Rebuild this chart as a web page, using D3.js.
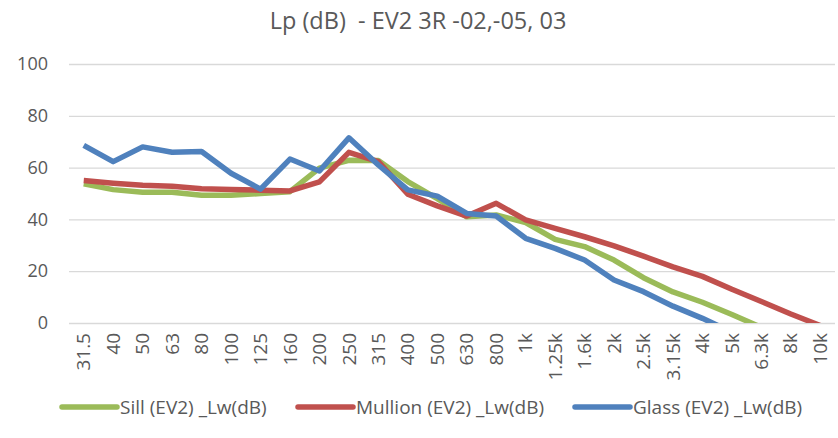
<!DOCTYPE html>
<html>
<head>
<meta charset="utf-8">
<script src="https://cdn.jsdelivr.net/npm/d3@7/dist/d3.min.js"></script>
<style>
  html, body { margin: 0; padding: 0; background: #fff; }
  #chart { width: 838px; height: 438px; }
</style>
</head>
<body>
<div id="chart"></div>
<script>
const freqs = ['31.5', '40', '50', '63', '80', '100', '125', '160', '200', '250', '315', '400', '500',
  '630', '800', '1k', '1.25k', '1.6k', '2k', '2.5k', '3.15k', '4k', '5k', '6.3k', '8k', '10k'];

const sill = [53.7, 51.5, 50.5, 50.5, 49.3, 49.3, 50, 50.7, 59.8, 62.8, 62.7, 54.6, 48,
  41, 41.7, 38.8, 32.3, 29.5, 24.3, 17.5, 12, 8, 3.3, -1.7, null, null];
const mullion = [55, 54, 53.2, 52.8, 51.8, 51.5, 51.3, 51, 54.5, 65.9, 62.3, 49.7, 45.2,
  41.3, 46.2, 39.8, 36.5, 33.3, 29.8, 25.8, 21.7, 18, 13, 8.3, 3.5, -1];
const glass = [68.6, 62.3, 68, 65.9, 66.2, 57.8, 51.7, 63.3, 58.7, 71.5, 61, 51.4, 49,
  42.3, 41.3, 32.7, 28.8, 24.3, 16.6, 12.1, 6.5, 1.8, -3.5, null, null, null];

const yTicks = [0, 20, 40, 60, 80, 100];
const seriesNames = ['Sill (EV2) _Lw(dB)', 'Mullion (EV2) _Lw(dB)', 'Glass (EV2) _Lw(dB)'];
const seriesColors = ['#9BBB59', '#C0504D', '#4F81BD'];
const seriesValues = [sill, mullion, glass];

const font = "'Open Sans', 'DejaVu Sans', sans-serif";
const textColor = '#595959';

const totalW = 838, totalH = 438;
const margin = { top: 64, right: 3, bottom: 115, left: 69 };
const w = totalW - margin.left - margin.right;
const h = totalH - margin.top - margin.bottom;

const svg = d3.select('#chart').append('svg')
  .attr('width', totalW).attr('height', totalH);

svg.append('text')
  .attr('x', 418).attr('y', 29)
  .attr('text-anchor', 'middle')
  .attr('font-family', font).attr('font-size', '23.5px')
  .attr('fill', textColor)
  .style('white-space', 'pre')
  .text('Lp (dB)  - EV2 3R -02,-05, 03');

const g = svg.append('g').attr('transform', `translate(${margin.left},${margin.top})`);

const x = d3.scaleBand().domain(freqs).range([0, w]).padding(0);
const y = d3.scaleLinear().domain([0, 100]).range([h, 0]);

// Grid
g.append('g').selectAll('line')
  .data(yTicks).enter().append('line')
  .attr('x1', 0).attr('x2', w)
  .attr('y1', d => y(d) + 0.5).attr('y2', d => y(d) + 0.5)
  .attr('stroke', '#D9D9D9').attr('stroke-width', 1.3);

// Y axis labels
const yAxis = g.append('g').call(d3.axisLeft(y).tickValues(yTicks).tickSize(0).tickPadding(21));
yAxis.select('.domain').remove();
yAxis.selectAll('text')
  .attr('fill', textColor).attr('font-family', font).attr('font-size', '18px');

// X axis labels
const xAxis = g.append('g').attr('transform', `translate(0,${h})`)
  .call(d3.axisBottom(x).tickSize(0));
xAxis.select('.domain').remove();
xAxis.selectAll('text')
  .attr('fill', textColor).attr('font-family', font).attr('font-size', '19px')
  .attr('transform', 'rotate(-90)')
  .attr('x', -10).attr('y', 0).attr('dy', '0.35em')
  .style('text-anchor', 'end');

// Lines
svg.append('defs').append('clipPath').attr('id', 'plot-clip')
  .append('rect').attr('x', 0).attr('y', -5).attr('width', w).attr('height', h + 5);

const line = d3.line()
  .defined(d => d != null)
  .x((d, i) => x(freqs[i]) + x.bandwidth() / 2)
  .y(d => y(d));

const lines = g.append('g').attr('clip-path', 'url(#plot-clip)');
seriesValues.forEach((vals, i) => {
  lines.append('path')
    .datum(vals)
    .attr('fill', 'none')
    .attr('stroke', seriesColors[i])
    .attr('stroke-width', 5.5)
    .attr('stroke-linejoin', 'round')
    .attr('d', line);
});

// Legend
const legendX = [62, 298, 575];
const legend = svg.append('g');
seriesNames.forEach((name, i) => {
  const lg = legend.append('g').attr('transform', `translate(${legendX[i]},407)`);
  lg.append('line')
    .attr('x1', 0).attr('x2', 55).attr('y1', 0).attr('y2', 0)
    .attr('stroke', seriesColors[i]).attr('stroke-width', 5.5).attr('stroke-linecap', 'round');
  lg.append('text')
    .attr('x', 58).attr('y', 0).attr('dy', '0.35em')
    .attr('font-family', font).attr('font-size', '19px')
    .attr('fill', textColor)
    .text(name);
});
</script>
</body>
</html>
